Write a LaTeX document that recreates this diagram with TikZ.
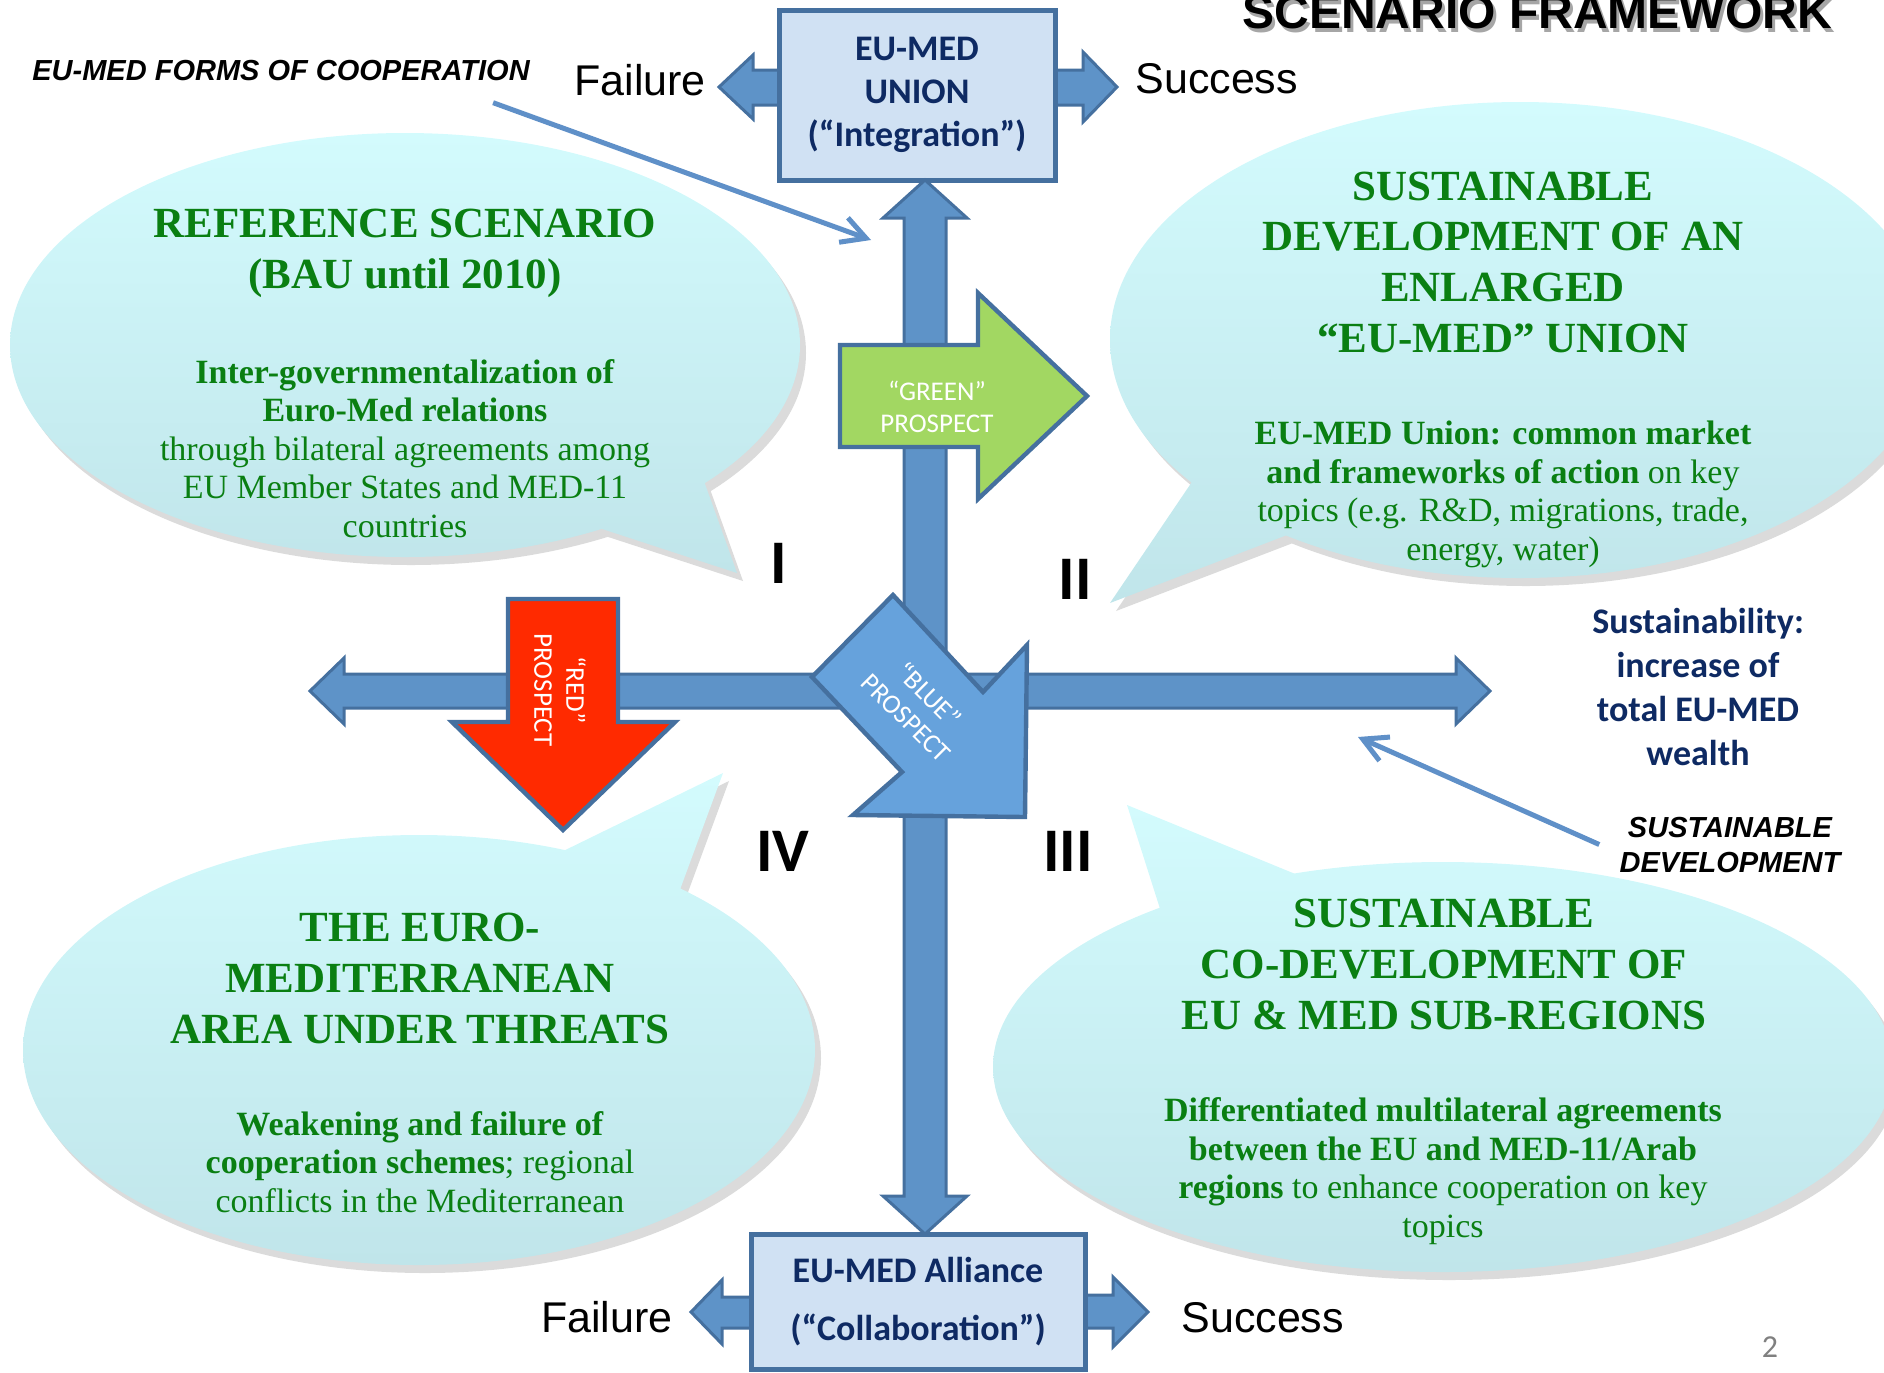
\documentclass[tikz,border=0pt]{standalone}
\usepackage{fontspec}
\setmainfont{Liberation Serif}
\setsansfont{Liberation Sans}
\newfontfamily\calibri{Carlito}
\usetikzlibrary{arrows.meta}

\definecolor{barfill}{HTML}{5E93C8}
\definecolor{barline}{HTML}{45709F}
\definecolor{boxfill}{HTML}{D0E1F3}
\definecolor{navy}{HTML}{0E2A63}
\definecolor{scengreen}{HTML}{0A7F12}
\definecolor{bubtop}{HTML}{D3FBFD}
\definecolor{bubbot}{HTML}{C0E5EA}
\definecolor{blueprosp}{HTML}{66A2DC}
\definecolor{greenprosp}{HTML}{A2D762}
\definecolor{redprosp}{HTML}{FF2A00}
\definecolor{pointer}{HTML}{5F90C8}

\tikzset{
  axe/.style={fill=barfill, draw=barline, line width=1.5pt, line join=miter},
  prospectbox/.style={draw=barline, line width=2.2pt, line join=miter},
  boite/.style={rectangle, fill=boxfill, draw=barline, line width=2.5pt, text=navy, align=center,
    inner sep=0pt, font=\calibri\bfseries\fontsize{18}{21.5}\selectfont},
  issue/.style={font=\sffamily\fontsize{21.5}{24}\selectfont, inner sep=0pt},
  chiffre/.style={font=\calibri\bfseries\fontsize{31}{31}\selectfont, inner sep=0pt},
  titrebulle/.style={text=scengreen, align=center, inner sep=0pt, font=\bfseries\fontsize{21.5}{25.3}\selectfont},
  textebulle/.style={text=scengreen, align=center, inner sep=0pt, font=\fontsize{17}{19.2}\selectfont},
  prospect/.style={text=white, align=center, inner sep=0pt, font=\calibri\fontsize{13.5}{16}\selectfont},
  note/.style={font=\sffamily\bfseries\itshape\fontsize{14.5}{17.5}\selectfont, align=center, inner sep=0pt},
  pointeur/.style={draw=pointer, line width=2.5pt, -{Straight Barb[length=12pt,width=13pt]}},
  ombre/.style={fill=black!14},
  fondbulle/.style={top color=bubtop, bottom color=bubbot},
}

% bulle : centre, rayon x, rayon y, base, pointe, base
\newcommand{\bulle}[6]{%
  \fill[ombre, shift={(6,8)}] #1 ellipse [x radius=#2, y radius=#3] #4 -- #5 -- #6 -- cycle;
  \shade[fondbulle] #1 ellipse [x radius=#2, y radius=#3] #4 -- #5 -- #6 -- cycle;}

\begin{document}
\begin{tikzpicture}[x=0.5pt, y=-0.5pt]
\useasboundingbox (0,0) rectangle (1884,1372);

% Les bulles
\bulle{(405,345)}{197.5pt}{106pt}{(590,525)}{(737,573)}{(700,470)}
\bulle{(1520,340)}{205pt}{119pt}{(1200,470)}{(1110,603)}{(1300,530)}
\bulle{(1443,1067)}{225pt}{102.5pt}{(1310,880)}{(1127,805)}{(1162,915)}
\bulle{(419,1050)}{198pt}{107.5pt}{(678,895)}{(723,773)}{(553,856)}

% Les petites fleches (echec / succes)
\draw[axe] (785,70) -- (753,70) -- (753,55) -- (719,87) -- (753,119) -- (753,105) -- (785,105) -- cycle;
\draw[axe] (1050,70) -- (1083,70) -- (1083,52) -- (1117,87) -- (1083,122) -- (1083,105) -- (1050,105) -- cycle;
\draw[axe] (755,1297) -- (722,1297) -- (722,1280) -- (691,1312) -- (722,1344) -- (722,1328) -- (755,1328) -- cycle;
\draw[axe] (1080,1295) -- (1113,1295) -- (1113,1277) -- (1148,1312) -- (1113,1347) -- (1113,1328) -- (1080,1328) -- cycle;

% Les deux formes de cooperation
\node[boite, minimum width=138pt, minimum height=85pt] (union) at (917,95)
  {EU-MED\\UNION\\(“Integration”)};
\node[boite, minimum width=167pt, minimum height=67.5pt, font=\calibri\bfseries\fontsize{18}{29}\selectfont]
  (alliance) at (918,1302) {EU-MED Alliance\\(“Collaboration”)};

% Les axes
\draw[axe] (925,180) -- (967,218) -- (946,218) -- (946,1196) -- (967,1196) -- (925,1234)
  -- (883,1196) -- (904,1196) -- (904,218) -- (883,218) -- cycle;
\draw[axe] (310,691) -- (344,658) -- (344,674) -- (1456,674) -- (1456,658) -- (1490,691)
  -- (1456,724) -- (1456,708) -- (344,708) -- (344,724) -- cycle;

% Les perspectives
\draw[prospectbox, fill=redprosp] (508,599) -- (618,599) -- (618,722) -- (675,722) -- (563,830)
  -- (452,722) -- (508,722) -- cycle;
\draw[prospectbox, fill=greenprosp] (840,345) -- (978,345) -- (978,293) -- (1087,396) -- (978,499)
  -- (978,447) -- (840,447) -- cycle;
\draw[prospectbox, fill=blueprosp] (812,677) -- (893,595) -- (983,692) -- (1027,645) -- (1025,817)
  -- (853,815) -- (902,772) -- cycle;
\node[prospect] (vert) at (937,407) {“GREEN”\\PROSPECT};
\node[prospect, rotate=-90] (rouge) at (560,690) {“RED”\\PROSPECT};
\node[prospect, rotate=-45] (bleu) at (918,706) {“BLUE”\\PROSPECT};

% Les quadrants
\foreach \num/\x/\y in {I/779/563, II/1075/579, III/1068/851, IV/783/851}
\node[chiffre] (q\num) at (\x,\y) {\num};

% Titre et libelles
\node[anchor=base west, inner sep=0pt, text=black!35, font=\sffamily\bfseries\fontsize{24}{24}\selectfont]
  (titreombre) at (1245,32) {SCENARIO FRAMEWORK};
\node[anchor=base west, inner sep=0pt, font=\sffamily\bfseries\fontsize{24}{24}\selectfont]
  (titre) at (1242,28) {SCENARIO FRAMEWORK};
\node[issue, anchor=base west] (echecH) at (574,95) {Failure};
\node[issue, anchor=base west] (succesH) at (1135,93) {Success};
\node[issue, anchor=base east] (echecB) at (673,1332) {Failure};
\node[issue, anchor=base west] (succesB) at (1181,1332) {Success};
\node[note, anchor=base west] (formes) at (32,80) {EU-MED FORMS OF COOPERATION};
\node[note, anchor=base] (devdur) at (1730,872) {SUSTAINABLE\\DEVELOPMENT};
\node[anchor=base, align=center, inner sep=0pt, text=navy, font=\calibri\bfseries\fontsize{18}{22}\selectfont]
  (richesse) at (1698,765) {Sustainability:\\increase of\\total EU-MED\\wealth};
\node[inner sep=0pt, text=black!50, font=\calibri\fontsize{16}{16}\selectfont] (page) at (1770,1347) {2};

% Les fleches de renvoi
\coordinate (cibleA) at (871,240);
\coordinate (cibleB) at (1358,737);
\draw[pointeur] ([shift={(-37,22)}]formes.south east) -- (cibleA);
\draw[pointeur] ([xshift=-10pt]devdur.west) -- (cibleB);

% Les textes des bulles
\node[titrebulle, anchor=base] (titreI) at (405,288) {REFERENCE SCENARIO\\(BAU until 2010)};
\node[textebulle, anchor=base] (texteI) at (405,537) {\textbf{Inter-governmentalization of}\\
  \textbf{Euro-Med relations}\\through bilateral agreements among\\EU Member States and MED-11\\countries};
\node[titrebulle, anchor=base] (titreII) at (1503,352)
  {SUSTAINABLE\\DEVELOPMENT OF AN\\ENLARGED\\“EU-MED” UNION};
\node[textebulle, anchor=base] (texteII) at (1503,560) {\textbf{EU-MED Union: common market}\\
  \textbf{and frameworks of action} on key\\topics (e.g. R\&D, migrations, trade,\\energy, water)};
\node[titrebulle, anchor=base] (titreIII) at (1444,1029)
  {SUSTAINABLE\\CO-DEVELOPMENT OF\\EU \& MED SUB-REGIONS};
\node[textebulle, anchor=base] (texteIII) at (1443,1237) {\textbf{Differentiated multilateral agreements}\\
  \textbf{between the EU and MED-11/Arab}\\\textbf{regions} to enhance cooperation on key\\topics};
\node[titrebulle, anchor=base] (titreIV) at (420,1043)
  {THE EURO-\\MEDITERRANEAN\\AREA UNDER THREATS};
\node[textebulle, anchor=base] (texteIV) at (420,1212) {\textbf{Weakening and failure of}\\
  \textbf{cooperation schemes}; regional\\conflicts in the Mediterranean};

\end{tikzpicture}
\end{document}
